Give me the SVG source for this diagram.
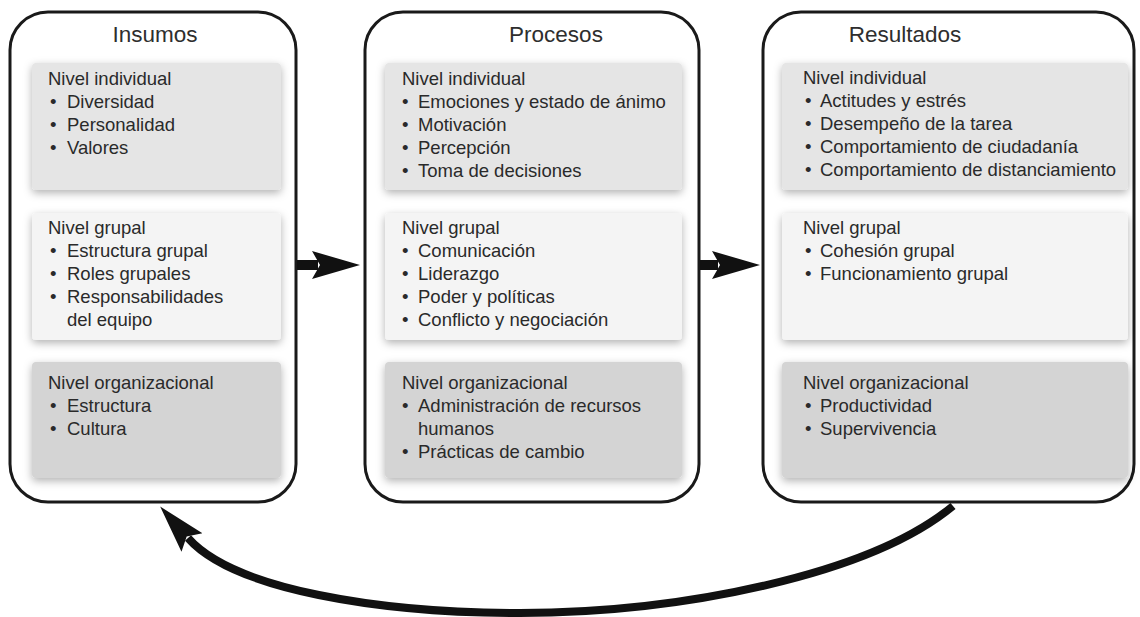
<svg xmlns="http://www.w3.org/2000/svg" width="1140" height="617" viewBox="0 0 1140 617">
<defs>
<style>
.box{fill:#ffffff;stroke:#1a1a1a;stroke-width:3}
.p1{fill:#e5e5e5}
.p2{fill:#f4f4f4}
.p3{fill:#d4d4d4}
.title{font-family:"Liberation Sans",Arial,sans-serif;font-size:22.5px;fill:#2e2e2e;text-anchor:middle}
.t{font-family:"Liberation Sans",Arial,sans-serif;font-size:18.5px;fill:#2a2a2a}
.shaft{fill:none;stroke:#111;stroke-width:10}
.curve{fill:none;stroke:#111;stroke-width:8}
</style>
<filter id="sh" x="-10%" y="-10%" width="120%" height="130%">
<feDropShadow dx="0" dy="3" stdDeviation="4" flood-color="#000" flood-opacity="0.3"/>
</filter>
<marker id="head" markerUnits="userSpaceOnUse" viewBox="0 0 48 30" markerWidth="48" markerHeight="30" refX="6" refY="15" orient="auto">
<path d="M0,1 L48,15 L0,29 L8,15 Z" fill="#111"/>
</marker>
</defs>

<g id="insumos">
<rect class="box" x="10" y="12" width="286" height="490" rx="38" ry="38"/>
<text class="title" x="155" y="42">Insumos</text>
<g id="insumos-individual">
<rect class="p1" x="32" y="63" width="249" height="127" rx="4" filter="url(#sh)"/>
<text class="t" x="48" y="85">Nivel individual</text>
<text class="t" x="50" y="108">•</text><text class="t" x="67" y="108">Diversidad</text>
<text class="t" x="50" y="131">•</text><text class="t" x="67" y="131">Personalidad</text>
<text class="t" x="50" y="154">•</text><text class="t" x="67" y="154">Valores</text>
</g>
<g id="insumos-grupal">
<rect class="p2" x="32" y="213" width="249" height="127" rx="4" filter="url(#sh)"/>
<text class="t" x="48" y="234">Nivel grupal</text>
<text class="t" x="50" y="257">•</text><text class="t" x="67" y="257">Estructura grupal</text>
<text class="t" x="50" y="280">•</text><text class="t" x="67" y="280">Roles grupales</text>
<text class="t" x="50" y="303">•</text><text class="t" x="67" y="303">Responsabilidades</text>
<text class="t" x="67" y="326">del equipo</text>
</g>
<g id="insumos-organizacional">
<rect class="p3" x="32" y="362" width="249" height="116" rx="4" filter="url(#sh)"/>
<text class="t" x="48" y="389">Nivel organizacional</text>
<text class="t" x="50" y="412">•</text><text class="t" x="67" y="412">Estructura</text>
<text class="t" x="50" y="435">•</text><text class="t" x="67" y="435">Cultura</text>
</g>
</g>

<g id="procesos">
<rect class="box" x="365" y="12" width="334" height="490" rx="38" ry="38"/>
<text class="title" x="556" y="42">Procesos</text>
<g id="procesos-individual">
<rect class="p1" x="385" y="63" width="297" height="127" rx="4" filter="url(#sh)"/>
<text class="t" x="402" y="85">Nivel individual</text>
<text class="t" x="402" y="108">•</text><text class="t" x="418" y="108">Emociones y estado de ánimo</text>
<text class="t" x="402" y="131">•</text><text class="t" x="418" y="131">Motivación</text>
<text class="t" x="402" y="154">•</text><text class="t" x="418" y="154">Percepción</text>
<text class="t" x="402" y="177">•</text><text class="t" x="418" y="177">Toma de decisiones</text>
</g>
<g id="procesos-grupal">
<rect class="p2" x="385" y="213" width="297" height="127" rx="4" filter="url(#sh)"/>
<text class="t" x="402" y="234">Nivel grupal</text>
<text class="t" x="402" y="257">•</text><text class="t" x="418" y="257">Comunicación</text>
<text class="t" x="402" y="280">•</text><text class="t" x="418" y="280">Liderazgo</text>
<text class="t" x="402" y="303">•</text><text class="t" x="418" y="303">Poder y políticas</text>
<text class="t" x="402" y="326">•</text><text class="t" x="418" y="326">Conflicto y negociación</text>
</g>
<g id="procesos-organizacional">
<rect class="p3" x="385" y="362" width="297" height="116" rx="4" filter="url(#sh)"/>
<text class="t" x="402" y="389">Nivel organizacional</text>
<text class="t" x="402" y="412">•</text><text class="t" x="418" y="412">Administración de recursos</text>
<text class="t" x="418" y="435">humanos</text>
<text class="t" x="402" y="458">•</text><text class="t" x="418" y="458">Prácticas de cambio</text>
</g>
</g>

<g id="resultados">
<rect class="box" x="763" y="12" width="371" height="490" rx="38" ry="38"/>
<text class="title" x="905" y="42">Resultados</text>
<g id="resultados-individual">
<rect class="p1" x="782" y="63" width="346" height="127" rx="4" filter="url(#sh)"/>
<text class="t" x="803" y="84">Nivel individual</text>
<text class="t" x="805" y="107">•</text><text class="t" x="820" y="107">Actitudes y estrés</text>
<text class="t" x="805" y="130">•</text><text class="t" x="820" y="130">Desempeño de la tarea</text>
<text class="t" x="805" y="153">•</text><text class="t" x="820" y="153">Comportamiento de ciudadanía</text>
<text class="t" x="805" y="176">•</text><text class="t" x="820" y="176">Comportamiento de distanciamiento</text>
</g>
<g id="resultados-grupal">
<rect class="p2" x="782" y="213" width="346" height="127" rx="4" filter="url(#sh)"/>
<text class="t" x="803" y="234">Nivel grupal</text>
<text class="t" x="805" y="257">•</text><text class="t" x="820" y="257">Cohesión grupal</text>
<text class="t" x="805" y="280">•</text><text class="t" x="820" y="280">Funcionamiento grupal</text>
</g>
<g id="resultados-organizacional">
<rect class="p3" x="782" y="362" width="346" height="116" rx="4" filter="url(#sh)"/>
<text class="t" x="803" y="389">Nivel organizacional</text>
<text class="t" x="805" y="412">•</text><text class="t" x="820" y="412">Productividad</text>
<text class="t" x="805" y="435">•</text><text class="t" x="820" y="435">Supervivencia</text>
</g>
</g>

<g id="connectors">
<path class="shaft" d="M297,265 L318,265" marker-end="url(#head)"/>
<path class="shaft" d="M700,265 L718,265" marker-end="url(#head)"/>
<path class="curve" d="M953,506 C870,575 680,613 520,613 C380,613 234,590 188,538" marker-end="url(#head)"/>
</g>
</svg>
